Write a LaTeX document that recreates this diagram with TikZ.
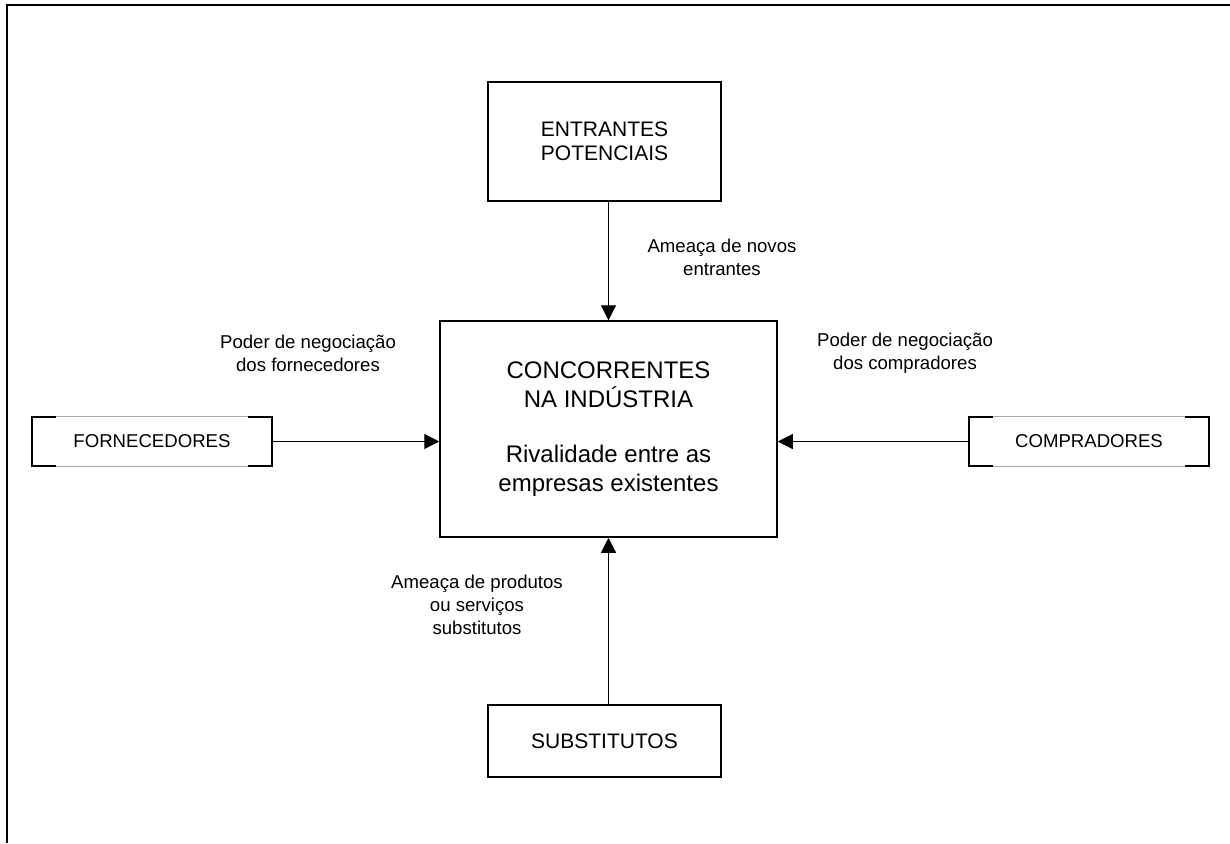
\documentclass[tikz,border=0pt]{standalone}
\usepackage{fontspec}
\setmainfont{Liberation Sans}
\usetikzlibrary{arrows.meta}

\begin{document}
\begin{tikzpicture}[
  x=0.5pt, y=-0.5pt,
  every node/.style={font=\fontsize{9.3}{11.5}\selectfont, align=center},
  force/.style={draw, line width=0.75pt, inner sep=0pt},
  sidebox/.style={inner sep=0pt, minimum width=120pt, minimum height=24.5pt},
  arrow/.style={draw, line width=0.6pt, -{Triangle[length=7.5pt,width=7.5pt]}},
  big/.style={font=\fontsize{12}{14.5}\selectfont},
  mid/.style={font=\fontsize{10.5}{12}\selectfont}
]
\fill[white] (0,0) rectangle (1230,843);
\useasboundingbox (0,0) rectangle (1230,843);
\draw[line width=1pt] (1230,5) -- (7,5) -- (7,843);

% the five forces
\node[force, big, minimum width=168.5pt, minimum height=108pt] (ctr) at (608.5,429)
  {CONCORRENTES\\NA INDÚSTRIA\\[13pt]Rivalidade entre as\\empresas existentes};
\node[force, mid, minimum width=116.5pt, minimum height=59.5pt] (ent) at (604.5,141.5) {ENTRANTES\\POTENCIAIS};
\node[force, mid, minimum width=116.5pt, minimum height=36pt] (subs) at (604.5,741) {SUBSTITUTOS};
\node[sidebox] (forn) at (152,441.5) {FORNECEDORES};
\node[sidebox] (comp) at (1089,441.5) {COMPRADORES};

\foreach \n in {forn,comp} {
  \draw[gray!70, line width=0.4pt] (\n.north west) -- (\n.north east) (\n.south west) -- (\n.south east);
  \draw[line width=1pt] ([xshift=12pt]\n.north west) -- (\n.north west) -- (\n.south west) -- ([xshift=12pt]\n.south west);
  \draw[line width=1pt] ([xshift=-12pt]\n.north east) -- (\n.north east) -- (\n.south east) -- ([xshift=-12pt]\n.south east);
}

% pressures
\draw[arrow] (ent.south -| ctr.north) -- (ctr.north);
\draw[arrow] (subs.north -| ctr.south) -- (ctr.south);
\draw[arrow] (forn.east) -- (forn.east -| ctr.west);
\draw[arrow] (comp.west) -- (comp.west -| ctr.east);

\node (lnew) at (722,257) {Ameaça de novos\\entrantes};
\node (lforn) at (308,353) {Poder de negociação\\dos fornecedores};
\node (lcomp) at (905,353) {Poder de negociação\\dos compradores};
\node (lsubs) at (477,605) {Ameaça de produtos\\ou serviços\\substitutos};
\end{tikzpicture}
\end{document}
